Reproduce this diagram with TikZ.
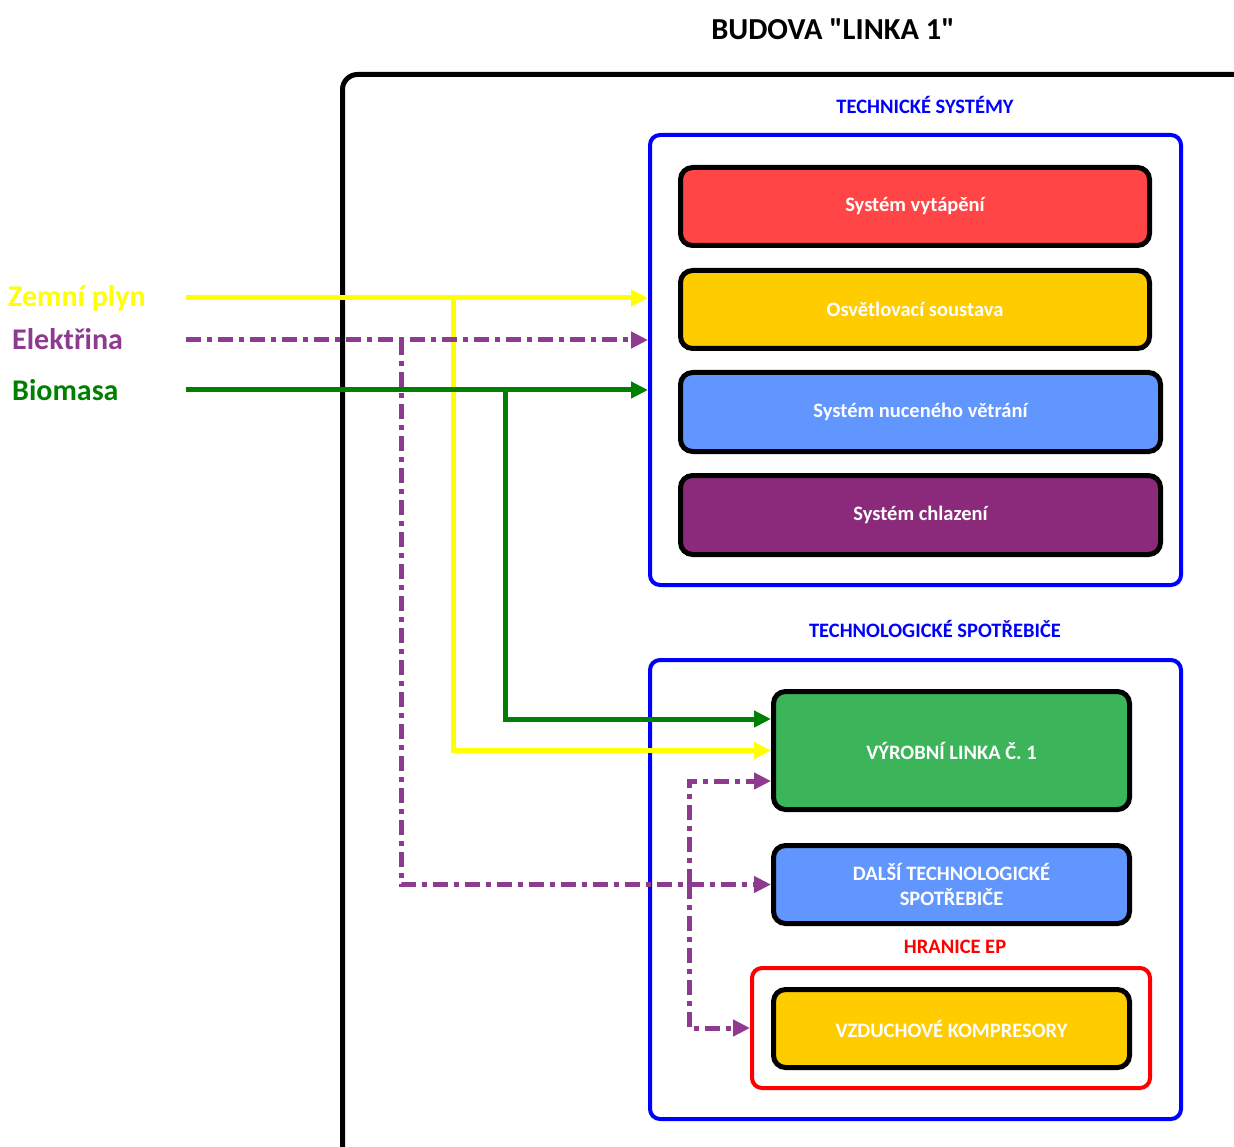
\documentclass[tikz,border=0pt]{standalone}
\usepackage{fontspec}
\setmainfont{Carlito}
% plain family without TeX ligature mapping, so " stays a straight quote
\newfontfamily\titlefont{Carlito}
\usetikzlibrary{arrows.meta}
\definecolor{heatc}{HTML}{FF4545}
\definecolor{lampc}{HTML}{FFCC00}
\definecolor{ventc}{HTML}{6196FF}
\definecolor{coolc}{HTML}{8B2A7B}
\definecolor{prodc}{HTML}{3CB55A}
\definecolor{gasc}{HTML}{FFFF00}
\definecolor{elc}{HTML}{8E3A8E}
\definecolor{bioc}{HTML}{008000}
\tikzset{
  unit/.style={draw=black, line width=5pt, rounded corners=12pt, text=white,
    font=\bfseries\fontsize{20.5}{25}\selectfont, align=center, inner sep=0pt},
  group/.style={draw=blue, line width=4pt, rounded corners=10pt, inner sep=0pt},
  head/.style={text=blue, font=\bfseries\fontsize{20.5}{22}\selectfont, inner sep=0pt},
  carrier/.style={anchor=west, font=\bfseries\fontsize{30}{32}\selectfont, inner sep=0pt},
  flow/.style={line width=5pt, -{Triangle[length=17pt,width=16pt]}},
  elflow/.style={flow, draw=elc, dash pattern=on 15pt off 6pt on 5pt off 6pt},
}
\begin{document}
\begin{tikzpicture}[x=1pt,y=-1pt]
\useasboundingbox (0,0) rectangle (1234,1147);
\clip (0,0) rectangle (1234,1147);

% building outline, running off the right and bottom edges
\draw[line width=5pt, rounded corners=15pt] (342.5,1200) -- (342.5,74.5) -- (1300,74.5);
\node[font=\titlefont\bfseries\fontsize{30.5}{32}\selectfont, inner sep=0pt] (title) at (833,29) {BUDOVA "LINKA 1"};

% technical systems
\node[head] (tshead) at (925,105) {TECHNICKÉ SYSTÉMY};
\node[group, minimum width=531pt, minimum height=450pt] (ts) at (915.5,360) {};
\node[unit, fill=heatc, minimum width=469pt, minimum height=78pt] (heat) at (915,206.5) {Systém vytápění};
\node[unit, fill=lampc, minimum width=469pt, minimum height=78pt] (lamp) at (915,309.5) {Osvětlovací soustava};
\node[unit, fill=ventc, minimum width=480pt, minimum height=79pt] (vent) at (920.5,412) {Systém nuceného větrání};
\node[unit, fill=coolc, minimum width=480pt, minimum height=79pt] (cool) at (920.5,515) {Systém chlazení};

% technological consumers
\node[head] (tchead) at (935,629) {TECHNOLOGICKÉ SPOTŘEBIČE};
\node[group, minimum width=531pt, minimum height=459pt] (tc) at (915.5,889.5) {};
\node[unit, fill=prodc, minimum width=356pt, minimum height=118pt] (prod) at (951.5,750.5) {VÝROBNÍ LINKA Č. 1};
\node[unit, fill=ventc, minimum width=356pt, minimum height=78pt] (other) at (951.5,884.5) {DALŠÍ TECHNOLOGICKÉ\\SPOTŘEBIČE};
\node[text=red, font=\bfseries\fontsize{20.5}{22}\selectfont, inner sep=0pt] (ephead) at (955,947) {HRANICE EP};
\node[draw=red, line width=4pt, rounded corners=10pt, inner sep=0pt, minimum width=398pt, minimum height=120pt] (ep) at (951,1028) {};
\node[unit, fill=lampc, minimum width=356pt, minimum height=78pt] (comp) at (951.5,1028.5) {VZDUCHOVÉ KOMPRESORY};

% energy carriers
\node[carrier, text=gasc] (gaslbl) at (8,298) {Zemní plyn};
\node[carrier, text=elc] (ellbl) at (12,339) {Elektřina};
\node[carrier, text=bioc] (biolbl) at (12,390) {Biomasa};

\coordinate (gasin) at (186,298);
\coordinate (elin) at (186,340);
\coordinate (bioin) at (186,390);
\coordinate (gasj) at (453,298);
\coordinate (elj) at (401,340);
\coordinate (bioj) at (505,390);
\coordinate (elk) at (689,884);

% natural gas
\draw[flow, draw=gasc] (gasin) -- (gasin -| ts.west);
\draw[flow, draw=gasc] (gasj) |- (prod.west);
% biomass
\draw[flow, draw=bioc] (bioin) -- (bioin -| ts.west);
\draw[flow, draw=bioc] (bioj) |- ([yshift=31.5pt]prod.west);
% electricity
\draw[elflow] (elin) -- (elin -| ts.west);
\draw[elflow] (elj) |- (other.west);
\draw[elflow] (elk) |- ([yshift=-30.5pt]prod.west);
\draw[elflow] (elk) |- (ep.west);
\end{tikzpicture}
\end{document}
